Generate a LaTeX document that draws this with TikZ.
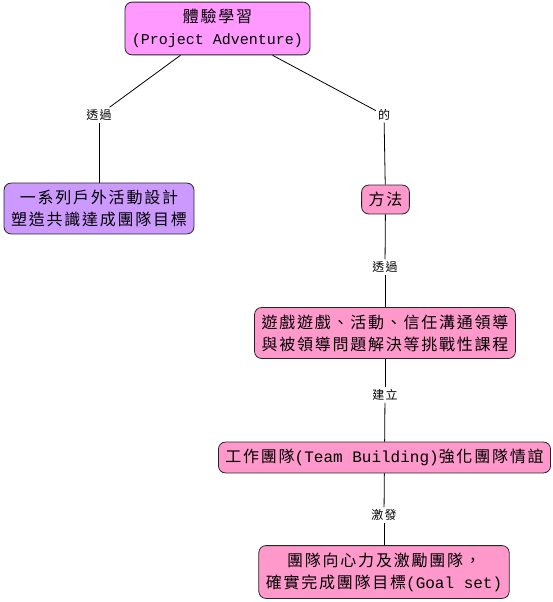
\documentclass[tikz,border=0pt]{standalone}
\usepackage{fontspec}
\setmainfont{Noto Sans CJK TC}[LetterSpace=11]
\setmonofont{Liberation Mono}
\usetikzlibrary{positioning}

\definecolor{topfill}{HTML}{FF99FF}
\definecolor{leftfill}{HTML}{CC99FF}
\definecolor{stepfill}{HTML}{FF99CC}
\newcommand{\lat}[1]{{\ttfamily #1}}

\begin{document}
\begin{tikzpicture}
    [
      x=1pt, y=-1pt,
      concept/.style={draw=black!85, line width=0.8pt, rounded corners=7pt, align=center,
        inner xsep=7pt, inner ysep=7pt, font=\fontsize{16}{22}\selectfont},
      linkword/.style={inner sep=2pt, font=\fontsize{12}{14}\selectfont},
      link/.style={-, line width=0.8pt},
    ]

    \useasboundingbox (0,0) rectangle (553,602);

    \node (top) [concept, fill=topfill] at (217.5,28.5) {體驗學習\\{\fontsize{15}{22}\selectfont\lat{(Project Adventure)}}};

    \node (via-a) [linkword] at (99,115) {透過};
    
    \node (outdoor) [concept, fill=leftfill] at (99,208.5) {一系列戶外活動設計\\塑造共識達成團隊目標};

    \node (of) [linkword] at (384,115) {的};
    
    \node (method) [concept, fill=stepfill] at (385.5,199.5) {方法};

    \node (via-b) [linkword] at (385,267) {透過};
    
    \node (games) [concept, fill=stepfill] at (385,333) {遊戲遊戲、活動、信任溝通領導\\與被領導問題解決等挑戰性課程};

    \node (build) [linkword] at (385,395) {建立};
    
    \node (team) [concept, fill=stepfill] at (384.5,457.5) {工作團隊\lat{(Team Building)}強化團隊情誼};

    \node (inspire) [linkword] at (384,515) {激發};
    
    \node (goal) [concept, fill=stepfill] at (384,572) {團隊向心力及激勵團隊，\\確實完成團隊目標\lat{(Goal set)}};

    \path
    ([xshift=-37pt]top.south) edge [link] (via-a)
    (via-a) edge [link] (outdoor)

    ([xshift=55pt]top.south) edge [link] (of)
    (of) edge [link] (method)

    (method) edge [link] (via-b)
    (via-b) edge [link] (games)
    (games) edge [link] (build)
    (build) edge [link] (team)
    (team) edge [link] (inspire)
    (inspire) edge [link] (goal)
    ;

  \end{tikzpicture}
\end{document}
